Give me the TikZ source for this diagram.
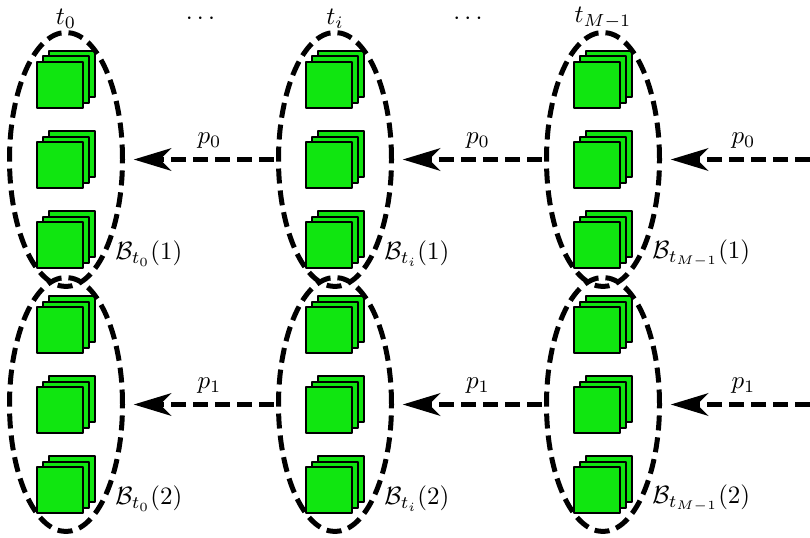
\documentclass[tikz,border=0pt]{standalone}
\usetikzlibrary{shapes.geometric,arrows.meta}
\definecolor{blockgreen}{RGB}{16,230,16}
\begin{document}
\begin{tikzpicture}[x=20pt, y=20pt, line join=round, >={Stealth[length=15pt,width=9pt,inset=4.5pt]},
	group/.style={draw, ellipse, line width=2pt, dash pattern=on 6pt off 2.8pt, inner sep=0pt, minimum width=45.2pt, minimum height=101.6pt},
	flow/.style={->, line width=2pt, dash pattern=on 6pt off 2.8pt, shorten >=3.5pt, shorten <=1pt},
	sheet/.style={draw, thick, fill=blockgreen}]
	\useasboundingbox (0,0) rectangle (16.2,10.74);
	% stacked blocks, three per group
	\foreach \c/\x in {1/1.32, 2/6.7, 3/12.06}
	\foreach \y in {7.55, 2.65}
	\foreach \dy in {1.6,0,-1.6}
	\foreach \k in {2,1,0}
	\draw[sheet] ({\x-0.58+0.12*\k},{\y+\dy-0.57+0.11*\k}) rectangle +(0.92,0.92);
	% groups and labels
	\foreach \c/\x/\t in {1/1.32/t_0, 2/6.7/t_i, 3/12.06/t_{M-1}}
	{
		\node[group] (e\c1) at (\x,7.55) {};
		\node[group] (e\c2) at (\x,2.65) {};
		\node[above, yshift=-2.8pt] (t\c) at (e\c1.north) {$\t$};
		\node[anchor=west] (b\c1) at (\x+0.81,5.67) {$\mathcal{B}_{\t}(1)$};
		\node[anchor=west] (b\c2) at (\x+0.81,0.77) {$\mathcal{B}_{\t}(2)$};
	}
	\node (dots1) at (4.01,10.36) {$\cdots$};
	\node (dots2) at (9.36,10.36) {$\cdots$};
	% flow between groups
	\coordinate (in1) at (16.2,7.55);
	\coordinate (in2) at (16.2,2.65);
	\foreach \g/\p in {1/p_0, 2/p_1}
	{
		\draw[flow] (e2\g.west) -- node[above,pos=0.44] (pa\g) {$\p$} (e1\g.east);
		\draw[flow] (e3\g.west) -- node[above,pos=0.44] (pb\g) {$\p$} (e2\g.east);
		\draw[flow, shorten <=0pt] (in\g) -- node[above,pos=0.45] (pc\g) {$\p$} (e3\g.east);
	}
\end{tikzpicture}
\end{document}
